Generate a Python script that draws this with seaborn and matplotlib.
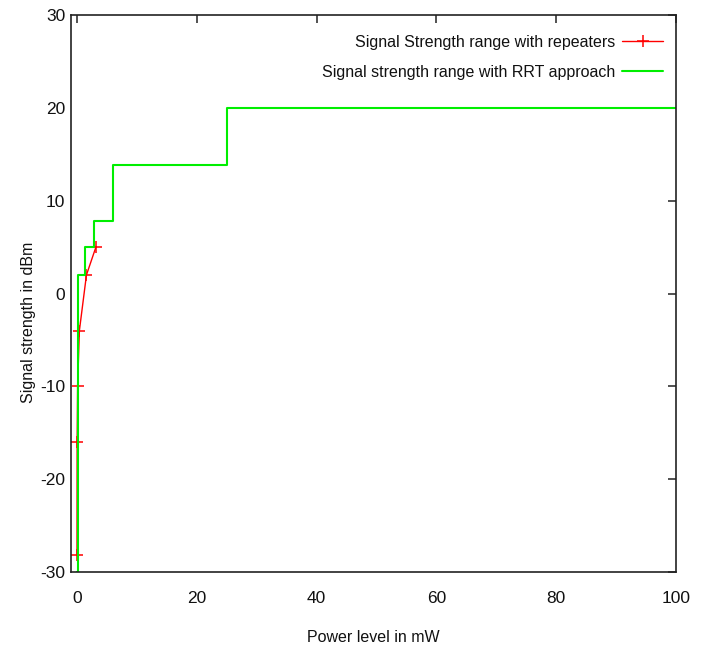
import matplotlib
matplotlib.use("Agg")
import matplotlib.pyplot as plt
import seaborn as sns
import pandas as pd

# Data
rep_power_mw = [0.0015, 0.025, 0.1, 0.4, 1.58, 3.16]
rep_strength_dbm = [-28.2, -16.0, -10.0, -4.0, 2.0, 5.0]

rrt_power_mw = [0.0, 0.15, 1.3, 2.9, 6.0, 25.0, 100.0]
rrt_strength_dbm = [-30.0, 2.0, 5.0, 7.8, 13.8, 20.0, 20.0]

x_ticks = [0, 20, 40, 60, 80, 100]
y_ticks = [-30, -20, -10, 0, 10, 20, 30]

sns.set_style("white")
plt.rcParams['font.family'] = ['Liberation Sans', 'DejaVu Sans']
plt.rcParams['axes.unicode_minus'] = False

fig = plt.figure(figsize=(7.04, 6.52), dpi=100)
ax = fig.add_axes([71/704, 1 - 572/652, (676 - 71)/704, (572 - 15)/652])

rep = pd.DataFrame({"x": rep_power_mw, "y": rep_strength_dbm})
rrt = pd.DataFrame({"x": rrt_power_mw, "y": rrt_strength_dbm})

sns.lineplot(data=rep, x="x", y="y", ax=ax, color="#ff0000", lw=1.0,
             marker="+", markersize=8, markeredgewidth=1.1,
             markeredgecolor="#ff0000", markerfacecolor="#ff0000",
             label="Signal Strength range with repeaters", sort=False)
sns.lineplot(data=rrt, x="x", y="y", ax=ax, color="#00ee00", lw=1.5,
             drawstyle="steps-post",
             label="Signal strength range with RRT approach", sort=False)

ax.set_xlim(-1, 100)
ax.set_ylim(-30, 30)
ax.set_xticks(x_ticks)
ax.set_yticks(y_ticks)
ax.tick_params(direction="in", length=6, width=1.2, top=True, right=True,
               labelsize=12.5, color="#333333", labelcolor="#111111")
ax.tick_params(axis="x", pad=14)
ax.tick_params(axis="y", pad=4)
for s in ax.spines.values():
    s.set_color("#222222")
    s.set_linewidth(1.2)

ax.set_xlabel("Power level in mW", fontsize=11.5, color="#111111")
ax.set_ylabel("Signal strength in dBm", fontsize=11.5, color="#111111")
ax.xaxis.set_label_coords(0.5, -0.117)
ax.yaxis.set_label_coords(-0.071, 0.449)
ax.xaxis.label.set_va("center")
ax.yaxis.label.set_va("center")

leg = ax.legend(loc="upper right", frameon=False, markerfirst=False,
                fontsize=11.5, handlelength=2.6, borderaxespad=0.7,
                labelspacing=0.95, handletextpad=0.4,
                bbox_to_anchor=(1 + 5/605, 1 - 2/557))
for t in leg.get_texts():
    t.set_ha("right")
    t.set_color("#111111")
leg._legend_box.align = "right"

fig.savefig("out.png", dpi=100)
